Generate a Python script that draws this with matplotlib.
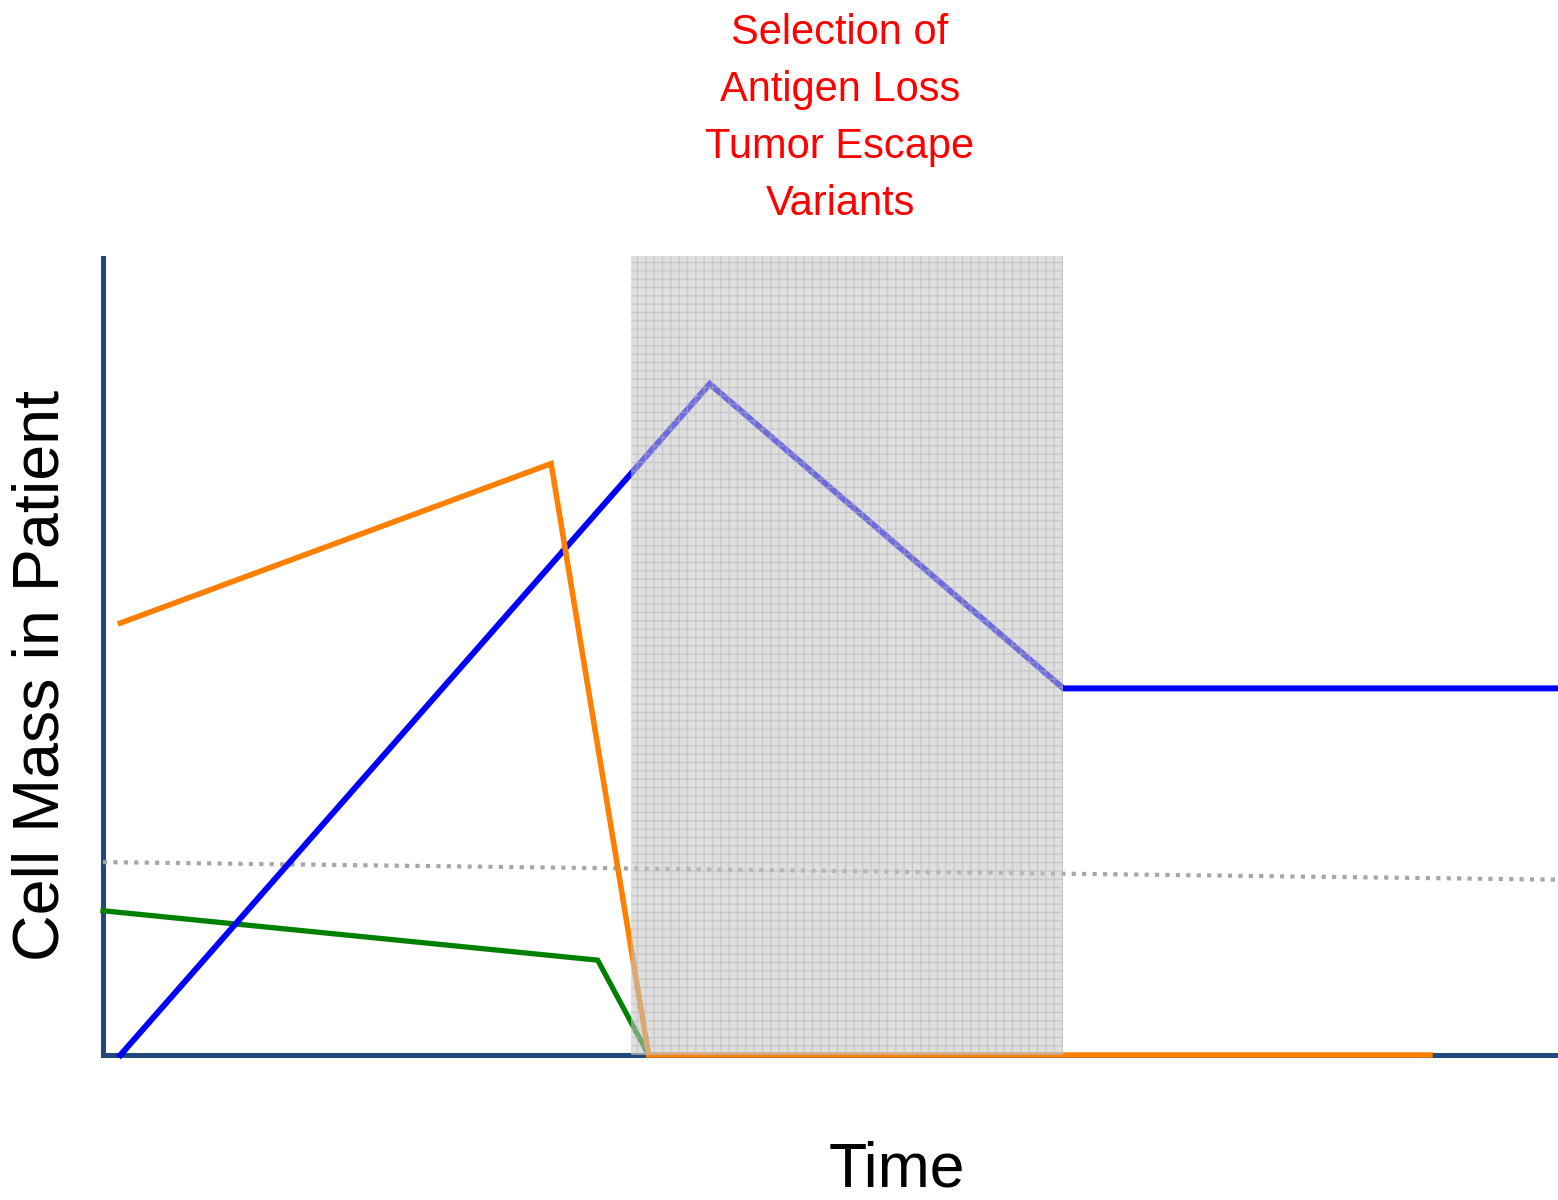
import matplotlib
matplotlib.use("Agg")
import matplotlib.pyplot as plt

plt.rcParams['font.family'] = ['Liberation Sans', 'DejaVu Sans']
plt.rcParams['hatch.linewidth'] = 0.9

# Conceptual time course (arbitrary units, 0-100 on both axes)
orange_t = [1.2, 30.8, 37.5, 91.2]
orange_m = [54.2, 74.2, 0.0, 0.0]

blue_t = [1.2, 41.7, 66.0, 100.0]
blue_m = [0.0, 84.2, 46.0, 46.0]

green_t = [0.0, 34.0, 37.5]
green_m = [18.1, 11.9, 0.0]

threshold_t = [0.0, 100.0]
threshold_m = [24.2, 22.0]

window_start, window_end = 36.3, 66.0

title_lines = ["Selection of", "Antigen Loss", "Tumor Escape", "Variants"]
xlabel = "Time"
ylabel = "Cell Mass in Patient"

fig = plt.figure(figsize=(15.58, 12), dpi=100)
ax = fig.add_axes([103 / 1558, 145 / 1200, 1455 / 1558, 797 / 1200])
ax.set_xlim(0, 100)
ax.set_ylim(0, 100)

axis_color = '#1f497d'
for side in ('top', 'right'):
    ax.spines[side].set_visible(False)
for side in ('left', 'bottom'):
    ax.spines[side].set_color(axis_color)
    ax.spines[side].set_linewidth(3.6)
    ax.spines[side].set_zorder(1)
ax.set_xticks([])
ax.set_yticks([])

ax.plot(threshold_t, threshold_m, color='#a6a6a6', lw=3.0, ls=(0, (1, 1.5)), zorder=2, clip_on=False)
ax.plot(green_t, green_m, color='#008000', lw=3.8, zorder=3, clip_on=False, solid_joinstyle='miter')
ax.plot(blue_t, blue_m, color='#0000ff', lw=4.3, zorder=3, clip_on=False, solid_joinstyle='miter')
ax.plot(orange_t, orange_m, color='#ff8000', lw=4.0, zorder=4, clip_on=False, solid_joinstyle='miter')

# Selection window shaded over the curves
ax.axvspan(window_start, window_end, ymin=0, ymax=1.003, facecolor='#c6c6c6', alpha=0.55,
           edgecolor='#b4b4b4', hatch='++', linewidth=0, zorder=5, clip_on=False)

fig.text(42 / 1558, 1 - 675 / 1200, ylabel, rotation=90, fontsize=46.5,
         ha='center', va='center')
fig.text(897 / 1558, 1 - 1170 / 1200, xlabel, fontsize=45, ha='center', va='center')
fig.text(840 / 1558, 1 - 118.5 / 1200, "\n".join(title_lines), fontsize=30, color='#ff0000',
         ha='center', va='center', linespacing=1.55)

fig.savefig("out.png", dpi=100)
